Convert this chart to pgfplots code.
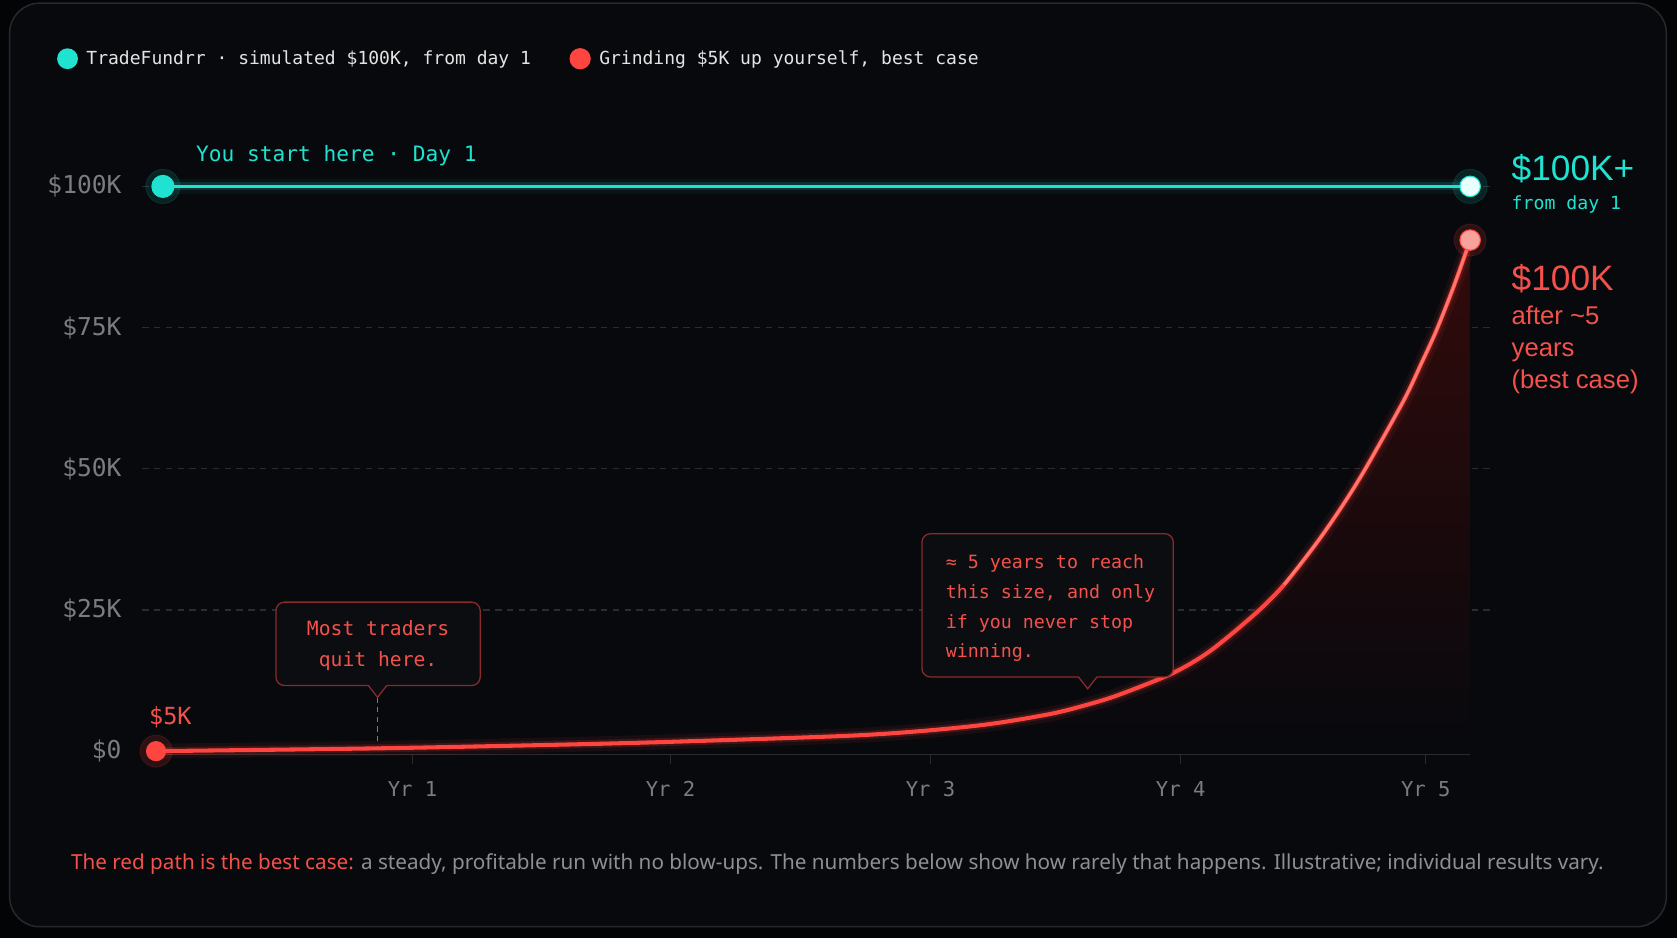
\documentclass[border=0pt]{standalone}
\usepackage{pgfplots}
\pgfplotsset{compat=1.18}
\usepackage{pgfplotstable}
\usepackage{fontspec}
\setmainfont{Liberation Sans}
\newfontfamily\mono{DejaVu Sans Mono}
\newfontfamily\notosans{Noto Sans}
\definecolor{outerbg}{HTML}{030405}
\definecolor{panelbg}{HTML}{07090D}
\definecolor{panelborder}{HTML}{26282D}
\definecolor{cyanc}{HTML}{1FE3D0}
\definecolor{cyanwhite}{HTML}{E8FFFB}
\definecolor{redc}{HTML}{FF4540}
\definecolor{redlight}{HTML}{FF8A80}
\definecolor{redtext}{HTML}{F5514B}
\definecolor{redsoft}{HTML}{F8A29C}
\definecolor{ticklbl}{HTML}{7B7C80}
\definecolor{gridc}{HTML}{2B2C30}
\definecolor{axisc}{HTML}{2A2B2F}
\definecolor{legtext}{HTML}{E4E4E4}
\definecolor{foot}{HTML}{8D8F94}
\definecolor{boxborder}{HTML}{8A2A2A}
\definecolor{boxfill}{HTML}{0B0D11}
\definecolor{redglow}{HTML}{330A0B}

\pgfplotstableread{
x y
-0.027 0
0.85 500
1.57 1150
2.00 1650
2.69 2700
3.00 3600
3.26 4800
3.50 6600
3.65 8300
3.77 10000
3.98 13800
4.13 17800
4.31 24500
4.42 29500
4.55 37000
4.65 43500
4.74 50000
4.89 62000
4.96 68600
5.02 74500
5.09 82500
5.153 90500
}\redtable

\pgfplotstableread{
x y
4.42 29500
4.55 37000
4.65 43500
4.74 50000
4.89 62000
4.96 68600
5.02 74500
5.09 82500
5.153 90500
}\redupper

\begin{document}
\begin{tikzpicture}[x=1pt,y=1pt]
\useasboundingbox (0,0) rectangle (784,438.5);
\fill[outerbg] (0,0) rectangle (784,438.5);
\filldraw[fill=panelbg, draw=panelborder, line width=0.7pt, rounded corners=14pt] (4.5,5.25) rectangle (779,437);

\begin{axis}[
  at={(66.5pt,85.75pt)}, anchor=south west,
  scale only axis, width=632.5pt, height=292pt,
  xmin=-0.0814, xmax=5.2517, ymin=-600, ymax=110000,
  axis line style={draw=none},
  xtick={0.984,2.001,3.026,4.012,4.978}, xticklabels={Yr 1,Yr 2,Yr 3,Yr 4,Yr 5},
  xtick pos=left,
  xtick align=outside, major tick length=4.5pt,
  xtick style={draw=axisc, line width=0.6pt},
  ytick={25000,50000,75000,100000}, yticklabels={\$25K,\$50K,\$75K,\$100K},
  extra y ticks={0}, extra y tick labels={\$0}, extra y tick style={grid=none},
  ytick style={draw=none},
  ymajorgrids, grid style={draw=gridc, dash pattern=on 3pt off 2.5pt, line width=0.6pt},
  yticklabel style={font=\mono\fontsize{11.5}{13}\selectfont, text=ticklbl, anchor=east, inner sep=0pt, xshift=-9.5pt},
  xticklabel style={font=\mono\fontsize{9.6}{11}\selectfont, text=ticklbl, anchor=north, inner sep=0pt, yshift=-8pt},
  scaled y ticks=false,
  clip=false,
  legend style={at={(-0.0632,1.114)}, anchor=west, draw=none, fill=none, inner sep=0pt,
    font=\mono\fontsize{8.42}{10}\selectfont, text=legtext, legend columns=2,
    /tikz/every odd column/.append style={column sep=2pt},
    /tikz/every even column/.append style={column sep=16pt}},
]
% axis base line
\draw[axisc, line width=0.7pt] (axis cs:-0.027,-600) -- (axis cs:5.153,-600);

% cyan series
\addplot[cyanc, line width=7pt, opacity=0.06, forget plot] coordinates {(0,100000) (5.153,100000)};
\addplot[cyanc, line width=3.8pt, opacity=0.14, forget plot] coordinates {(0,100000) (5.153,100000)};
\addplot[cyanc, line width=1.7pt, legend image code/.code={\fill[cyanc] (4pt,0) circle (4pt);}] coordinates {(0,100000) (5.153,100000)};
\addlegendentry{TradeFundrr · simulated \$100K, from day 1}

% red area and glow
\addplot[draw=none, top color=redglow, bottom color=panelbg, smooth, forget plot] table[x=x,y=y]{\redtable} \closedcycle;
\addplot[redc, line width=7pt, opacity=0.07, smooth, forget plot] table[x=x,y=y]{\redtable};
\addplot[redc, line width=3.8pt, opacity=0.16, smooth, forget plot] table[x=x,y=y]{\redtable};
\addplot[redc, line width=1.9pt, smooth, legend image code/.code={\fill[redc] (4pt,0) circle (4pt);}] table[x=x,y=y]{\redtable};
\addlegendentry{Grinding \$5K up yourself, best case}
\addplot[redlight, line width=1.2pt, opacity=0.75, smooth, forget plot] table[x=x,y=y]{\redupper};

% dashed marker line under callout 1
\draw[redc, line width=0.9pt, dash pattern=on 2.5pt off 2pt] (axis cs:0.846,9500) -- (axis cs:0.846,600);

% markers
\addplot[only marks, mark=*, mark size=8pt, cyanc, opacity=0.12, forget plot] coordinates {(0,100000) (5.153,100000)};
\addplot[only marks, mark=*, mark size=5.2pt, cyanc, forget plot] coordinates {(0,100000)};
\addplot[only marks, mark=*, mark size=4.8pt, mark options={fill=cyanwhite, draw=cyanc, line width=0.5pt}, forget plot] coordinates {(5.153,100000)};
\addplot[only marks, mark=*, mark size=7.5pt, redc, opacity=0.14, forget plot] coordinates {(-0.027,0) (5.153,90500)};
\addplot[only marks, mark=*, mark size=4.5pt, redc, forget plot] coordinates {(-0.027,0)};
\addplot[only marks, mark=*, mark size=4.8pt, mark options={fill=redsoft, draw=redc, line width=0.5pt}, forget plot] coordinates {(5.153,90500)};
\end{axis}

% annotations
\node[anchor=base west, inner sep=0pt, text=cyanc, font=\mono\fontsize{9.9}{12}\selectfont] at (91.5,363) {You start here · Day 1};
\node[anchor=base west, inner sep=0pt, text=cyanc, font=\fontsize{16.5}{19}\selectfont] at (706.5,354) {\$100K+};
\node[anchor=base west, inner sep=0pt, text=cyanc, font=\mono\fontsize{8.5}{10}\selectfont] at (706.5,340.5) {from day 1};
\node[anchor=base west, inner sep=0pt, text=redtext, font=\fontsize{16.5}{19}\selectfont] at (706.5,302.5) {\$100K};
\node[anchor=base west, inner sep=0pt, text=redtext, font=\fontsize{12}{15}\selectfont] at (706.5,286.7) {after \textasciitilde5};
\node[anchor=base west, inner sep=0pt, text=redtext, font=\fontsize{12}{15}\selectfont] at (706.5,271.7) {years};
\node[anchor=base west, inner sep=0pt, text=redtext, font=\fontsize{12}{15}\selectfont] at (706.5,256.7) {(best case)};
\node[anchor=base west, inner sep=0pt, text=redtext, font=\mono\fontsize{11}{13}\selectfont] at (69.5,100) {\$5K};

% callout 1
\filldraw[fill=boxfill, draw=boxborder, line width=0.6pt, rounded corners=4pt] (129,118) rectangle (224.5,157);
\fill[boxfill] (172.2,118.5) -- (176.5,112.8) -- (180.8,118.5) -- cycle;
\draw[boxborder, line width=0.6pt] (172.2,118) -- (176.5,112.5) -- (180.8,118);
\node[anchor=base, inner sep=0pt, text=redtext, font=\mono\fontsize{9.2}{11}\selectfont] at (176.75,141.3) {Most traders};
\node[anchor=base, inner sep=0pt, text=redtext, font=\mono\fontsize{9.2}{11}\selectfont] at (176.75,126.8) {quit here.};

% callout 2
\filldraw[fill=boxfill, draw=boxborder, line width=0.6pt, rounded corners=4pt] (431,122) rectangle (548.5,189);
\fill[boxfill] (504.2,122.5) -- (508.5,116.8) -- (512.8,122.5) -- cycle;
\draw[boxborder, line width=0.6pt] (504.2,122) -- (508.5,116.5) -- (512.8,122);
\node[anchor=base west, inner sep=0pt, text=redtext, font=\mono\fontsize{8.55}{11}\selectfont] at (442,172.9) {≈ 5 years to reach};
\node[anchor=base west, inner sep=0pt, text=redtext, font=\mono\fontsize{8.55}{11}\selectfont] at (442,158.9) {this size, and only};
\node[anchor=base west, inner sep=0pt, text=redtext, font=\mono\fontsize{8.55}{11}\selectfont] at (442,144.9) {if you never stop};
\node[anchor=base west, inner sep=0pt, text=redtext, font=\mono\fontsize{8.55}{11}\selectfont] at (442,130.9) {winning.};

% footer
\node[anchor=base west, inner sep=0pt, font=\notosans\fontsize{9.67}{11}\selectfont] at (33,32.1) {\textcolor{redtext}{The red path is the best case:} \textcolor{foot}{a steady, profitable run with no blow-ups. The numbers below show how rarely that happens. Illustrative; individual results vary.}};
\end{tikzpicture}
\end{document}
